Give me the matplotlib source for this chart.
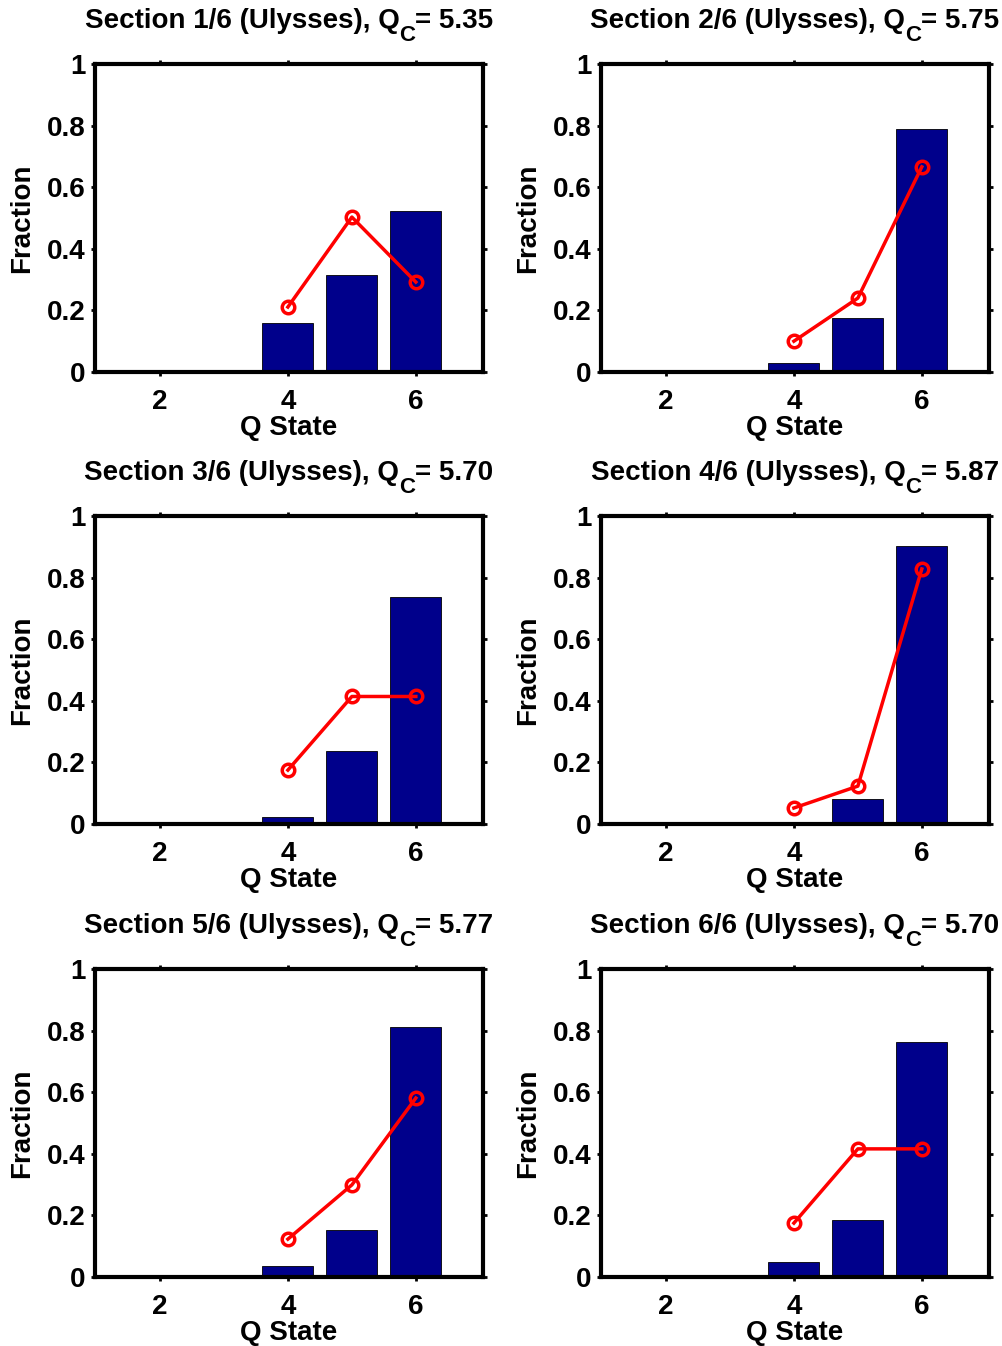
import matplotlib.pyplot as plt
from matplotlib.transforms import IdentityTransform

# Q states and fractions per section (bars = observed, red line = model)
states = [1, 2, 3, 4, 5, 6]
sections = ["1/6", "2/6", "3/6", "4/6", "5/6", "6/6"]
qc = ["5.35", "5.75", "5.70", "5.87", "5.77", "5.70"]

bars = [
    [0, 0, 0.003, 0.159, 0.315, 0.523],
    [0, 0, 0.001, 0.030, 0.175, 0.789],
    [0, 0, 0.002, 0.023, 0.236, 0.738],
    [0, 0, 0.007, 0.007, 0.081, 0.903],
    [0, 0, 0.002, 0.036, 0.153, 0.812],
    [0, 0, 0.003, 0.049, 0.185, 0.763],
]
line_x = [4, 5, 6]
lines = [
    [0.211, 0.503, 0.292],
    [0.100, 0.240, 0.666],
    [0.175, 0.414, 0.414],
    [0.052, 0.123, 0.828],
    [0.123, 0.299, 0.581],
    [0.175, 0.416, 0.416],
]

plt.rcParams['font.family'] = ['Liberation Sans', 'DejaVu Sans']
plt.rcParams['font.weight'] = 'bold'
plt.rcParams['font.size'] = 20

fig = plt.figure(figsize=(10.03, 13.46), dpi=100)
renderer = fig.canvas.get_renderer()
W, H = 1003, 1346
lefts = [95, 601]
tops = [64, 516, 969]
aw, ah = 388, 308

for i in range(6):
    r, c = divmod(i, 2)
    ax = fig.add_axes([lefts[c] / W, 1 - (tops[r] + ah) / H, aw / W, ah / H])
    ax.bar(states, bars[i], width=0.8, color='#00008B', edgecolor='black', linewidth=0.6)
    ax.plot(line_x, lines[i], color='red', lw=2.5, marker='o', ms=9,
            mfc='none', mec='red', mew=2.5)
    ax.set_xlim(0.985, 7.05)
    ax.set_ylim(0, 1)
    ax.set_xticks([2, 4, 6])
    ax.set_yticks([0, 0.2, 0.4, 0.6, 0.8, 1])
    ax.set_yticklabels(['0', '0.2', '0.4', '0.6', '0.8', '1'])
    ax.tick_params(direction='out', length=3, width=2, top=True, right=True)
    ax.tick_params(axis='x', pad=9)
    ax.tick_params(axis='y', pad=4)
    for s in ax.spines.values():
        s.set_linewidth(3)
    ax.set_xlabel('Q State', fontweight='bold', labelpad=0)
    ax.set_ylabel('Fraction', fontweight='bold', labelpad=8)

    # title with a deep subscript C, laid out in pixels and centred over the axes
    parts = ['Section %s (Ulysses), Q' % sections[i], 'C', '= %s' % qc[i]]
    sizes = [20, 16, 20]
    drops = [0, 13, 0]
    texts = [fig.text(0, 0, p, fontsize=fs, fontweight='bold', va='baseline',
                      transform=IdentityTransform()) for p, fs in zip(parts, sizes)]
    widths = [t.get_window_extent(renderer).width for t in texts]
    x = lefts[c] + aw / 2 - sum(widths) / 2
    yb = H - (tops[r] - 36)
    for t, w, d in zip(texts, widths, drops):
        t.set_position((x, yb - d))
        x += w

fig.savefig('out.png', dpi=100)
